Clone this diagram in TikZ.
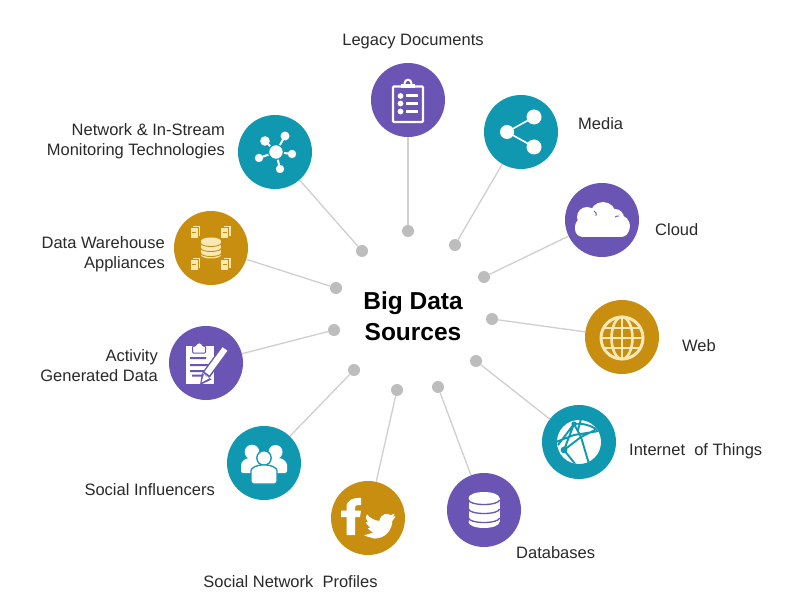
\documentclass[tikz,border=0pt]{standalone}
\usepackage{fontspec}
\setmainfont{Liberation Sans}
\definecolor{tealc}{HTML}{1098B0}
\definecolor{purp}{HTML}{6A54B4}
\definecolor{gold}{HTML}{C88E10}
\definecolor{cream}{HTML}{FAE8B4}
\definecolor{ink}{HTML}{2A2A2A}
\definecolor{wirec}{HTML}{CFCFCF}
\definecolor{dotc}{HTML}{BDBDBD}
\tikzset{
  disc/.style={circle,minimum size=74pt,inner sep=0pt,fill=#1},
  hub/.style={circle,minimum size=12pt,inner sep=0pt,fill=dotc},
  wire/.style={draw=wirec,line width=1.3pt},
  lab/.style={text=ink,inner sep=0pt,align=#1,font=\fontsize{16.5}{20}\selectfont},
  lab/.default=center,
  title/.style={text=black,inner sep=0pt,align=center,font=\fontsize{24.5}{30}\selectfont\bfseries}
}
\begin{document}
\begin{tikzpicture}[x=1pt,y=-1pt]
\useasboundingbox[fill=white] (0,0) rectangle (808,601);
% discs
\node[disc=purp]  (leg) at (408,100) {};
\node[disc=tealc] (med) at (521,132) {};
\node[disc=purp]  (clo) at (602,220) {};
\node[disc=gold]  (web) at (622,337) {};
\node[disc=tealc] (iot) at (579,442) {};
\node[disc=purp]  (dbs) at (484,510) {};
\node[disc=gold]  (soc) at (368,518) {};
\node[disc=tealc] (inf) at (264,463) {};
\node[disc=purp]  (act) at (206,363) {};
\node[disc=gold]  (dwh) at (211,248) {};
\node[disc=tealc] (net) at (275,152) {};
% hubs
\node[hub] (hleg) at (408,231) {};
\node[hub] (hmed) at (455,245) {};
\node[hub] (hclo) at (484,277) {};
\node[hub] (hweb) at (492,319) {};
\node[hub] (hiot) at (476,361) {};
\node[hub] (hdbs) at (438,387) {};
\node[hub] (hsoc) at (397,390) {};
\node[hub] (hinf) at (354,370) {};
\node[hub] (hact) at (334,330) {};
\node[hub] (hdwh) at (336,288) {};
\node[hub] (hnet) at (362,251) {};
% connectors
\draw[wire] (hleg) -- (leg);
\draw[wire] (hmed) -- (med);
\draw[wire] (hclo) -- (clo);
\draw[wire] (hweb) -- (web);
\draw[wire] (hiot) -- (iot);
\draw[wire] (hdbs) -- (dbs);
\draw[wire] (hsoc) -- (soc);
\draw[wire] (hinf) -- (inf);
\draw[wire] (hact) -- (act);
\draw[wire] (hdwh) -- (dwh);
\draw[wire] (hnet) -- (net);
% labels
\node[title] (big) at (413,316) {Big Data\\[1pt]Sources};
\node[lab] (lleg) at (413,41.5) {Legacy Documents};
\node[lab,anchor=west] (lmed) at (578,123.5) {Media};
\node[lab,anchor=west] (lclo) at (655,229.5) {Cloud};
\node[lab,anchor=west] (lweb) at (682,345.5) {Web};
\node[lab,anchor=west] (liot) at (629,451.5) {Internet\ \ of Things};
\node[lab,anchor=west] (ldbs) at (516,552.5) {Databases};
\node[lab] (lsoc) at (290.5,581.5) {Social Network\ \ Profiles};
\node[lab,anchor=east] (linf) at (215,489.5) {Social Influencers};
\node[lab=right,anchor=east] (lact) at (158,365.5) {Activity\\Generated Data};
\node[lab=right,anchor=east] (ldwh) at (165,254.5) {Data Warehouse\\Appliances};
\node[lab=right,anchor=east] (lnet) at (225,141.5) {Network \& In-Stream\\Monitoring Technologies};
% --- Legacy documents icon
\begin{scope}[shift={(leg.center)}]
  \draw[white,line width=2.2pt,fill=purp,rounded corners=1pt] (-15,-13.5) rectangle (15,22);
  \draw[white,line width=2pt] (-3.5,-13.5) -- (-3.3,-17) arc[start angle=180,end angle=0,radius=3.3pt] -- (3.5,-13.5);
  \fill[white] (-7,-15.5) rectangle (7,-11.5);
  \foreach \yy in {-4,3.5,11.5}{
    \fill[white] (-7.5,\yy) circle (2.9pt);
    \fill[white] (-2.5,\yy-1.5) rectangle (9.5,\yy+1.5);
  }
\end{scope}
% --- Network icon
\begin{scope}[shift={(net.center)}]
  \draw[white,line width=2pt] (1,0) -- (10,-16) (1,0) -- (-10,-11) (1,0) -- (17,2) (1,0) -- (-16,6) (1,0) -- (5,17);
  \draw[tealc,line width=1.2pt,fill=white] (1,0) circle (7.4pt);
  \fill[white] (10,-16) circle (4.5pt) (-10,-11) circle (4.8pt)
    (17,2) circle (4.2pt) (-16,6) circle (4.2pt) (5,17) circle (4.2pt);
\end{scope}
% --- Data warehouse icon
\begin{scope}[shift={(dwh.center)}]
  \fill[cream] (-10,-7) rectangle (10,7);
  \fill[cream] (0,-7) ellipse (10pt and 3.5pt) (0,7) ellipse (10pt and 3.5pt);
  \draw[gold,line width=.9pt] (-10,-4.5) arc[start angle=180,end angle=360,x radius=10pt,y radius=3pt];
  \draw[gold,line width=.9pt] (-10,0.5) arc[start angle=180,end angle=360,x radius=10pt,y radius=3pt];
  \draw[gold,line width=.9pt] (-10,5.5) arc[start angle=180,end angle=360,x radius=10pt,y radius=3pt];
  \foreach \xx/\yy in {-16/-16,14.5/-16,-16/16,14.5/16}{
    \draw[cream,line width=1.2pt] (\xx-2,\yy-5.5) -- (\xx+4.5,\yy-5.5) -- (\xx+4.5,\yy+4);
    \fill[cream] (\xx-4.5,\yy-3.5) rectangle (\xx+2.5,\yy+6);
    \draw[gold,line width=.8pt] (\xx-3,\yy) -- (\xx+1,\yy);
  }
\end{scope}
% --- Media icon
\begin{scope}[shift={(med.center)}]
  \draw[white,line width=1.6pt] (13,-15) -- (-14,0) -- (13,15);
  \fill[white] (-14,0) circle (7pt) (13,-15) circle (7.5pt) (13,15) circle (7.5pt);
\end{scope}
% --- Cloud icon
\begin{scope}[shift={(clo.center)}]
  \fill[white,rounded corners=8pt] (-27,0) rectangle (27,17);
  \fill[white] (-15,-3) circle (10pt) (1,-5) circle (13pt) (13,-2) circle (9pt) (17,6) circle (11pt) (-17,7) circle (10pt);
  \draw[purp,line width=.9pt] (-8,-9) .. controls (-5.5,-8) and (-5.5,-6) .. (-6,-4);
  \draw[purp,line width=.9pt] (13,-3) .. controls (14,-4) and (15.5,-4) .. (17,-4);
\end{scope}
% --- Web icon
\begin{scope}[shift={(web.center)}]
  \draw[cream,line width=3pt] (0,1) circle (21pt);
  \draw[cream,line width=2.6pt] (0,1) ellipse (10.5pt and 21pt);
  \draw[cream,line width=2.6pt] (0,-20) -- (0,22);
  \draw[cream,line width=2.6pt] (-21,1) -- (21,1) (-18,-9) -- (18,-9) (-18,11) -- (18,11);
\end{scope}
% --- Internet of Things icon
\begin{scope}[shift={(iot.center)}]
  \fill[white] (0,0) circle (22pt);
  \begin{scope}
    \clip (0,0) circle (22pt);
    \draw[tealc,line width=1.9pt] (-21,3) -- (-5,-18) -- (2,-5) -- (10,22)
      (-23,0) -- (-5,-7) -- (20,-11) (-15,8) -- (2,-5) -- (16,-12)
      (-15,8) -- (-3,23) (2,-23) -- (-1,-12) (-5,-18) .. controls (3,-19) and (12,-17) .. (20,-11)
      (-15,8) -- (-5,-18);
  \end{scope}
  \fill[tealc] (-15,8) circle (3.4pt) (-5,-18) circle (2.6pt);
\end{scope}
% --- Databases icon
\begin{scope}[shift={(dbs.center)}]
  \fill[white] (-15.5,-12) rectangle (15.5,12);
  \fill[white] (0,-12) ellipse (15.5pt and 6pt) (0,12) ellipse (15.5pt and 6pt);
  \foreach \yy in {-10,-1,8}{
    \draw[purp,line width=1.3pt] (-15.5,\yy) arc[start angle=180,end angle=360,x radius=15.5pt,y radius=4.5pt];
  }
\end{scope}
% --- Social icon
\begin{scope}[shift={(soc.center)}]
  \fill[white] (-21.5,17) -- (-21.5,-1) -- (-27,-1) -- (-27,-7.5) -- (-21.5,-7.5) -- (-21.5,-11)
    .. controls (-21.5,-18) and (-15,-20.5) .. (-7,-20) -- (-7,-13) -- (-10,-13)
    .. controls (-12.5,-13) and (-13,-12) .. (-13,-10) -- (-13,-7.5) -- (-7,-7.5) -- (-8,-1) -- (-13,-1) -- (-13,17) -- cycle;
  \begin{scope}[shift={(-3,-7)},x=1.25pt,y=-1.25pt]
    \filldraw[white,line width=.8pt,line join=round] (23.95,4.57) -- (21.13,5.34) -- (23.29,2.62) -- (20.17,3.8)
      .. controls (18.5,1.2) and (12.5,2.5) .. (11.79,8.28)
      .. controls (7.69,8.09) and (4.07,6.13) .. (1.64,3.16)
      -- (0.97,5.64) -- (3.16,9.74) -- (0.93,9.12) -- (4.88,14.01) -- (2.67,14.09) -- (7.27,17.51) -- (0,19.54)
      -- (7.55,21.75) .. controls (16.6,21.75) and (21.53,14.25) .. (21.53,7.77) -- cycle;
  \end{scope}
\end{scope}
% --- Influencers icon
\begin{scope}[shift={(inf.center)}]
  \fill[white] (-12,-11) circle (7.3pt) (11.5,-11) circle (7pt);
  \fill[white,rounded corners=2pt] (-23,10) -- (-23,4) .. controls (-23,-2) and (-18,-5) .. (-12,-5) .. controls (-6,-5) and (-1,-2) .. (-1,4) -- (-1,10) -- cycle;
  \fill[white,rounded corners=2pt] (23,10) -- (23,4) .. controls (23,-2) and (18,-5) .. (12,-5) .. controls (6,-5) and (1,-2) .. (1,4) -- (1,10) -- cycle;
  \draw[tealc,line width=1.3pt,fill=white] (0,-5) circle (7.2pt);
  \draw[tealc,line width=1.3pt,fill=white,rounded corners=2.5pt] (-13,21) -- (-13,10) .. controls (-13,5) and (-7,2) .. (0,2) .. controls (7,2) and (13,5) .. (13,10) -- (13,21) -- cycle;
\end{scope}
% --- Activity icon
\begin{scope}[shift={(act.center)}]
  \fill[white] (-20.5,-17) rectangle (8,21);
  \draw[purp,line width=1pt,fill=white,rounded corners=1pt] (-13.5,-10) -- (-13.5,-17) -- (-10,-17) arc[start angle=180,end angle=0,radius=3.2pt] -- (-0.5,-17) -- (-0.5,-10) -- cycle;
  \fill[purp] (-16,-6) rectangle (0,-4) (-16,1) rectangle (5,3) (-16,7) rectangle (2,9) (-14,11.5) rectangle (-3,13.5);
  \draw[purp,line width=9pt] (19.5,-14.5) -- (0,12);
  \draw[white,line width=6pt] (19,-14) -- (1,10.5);
  \fill[purp] (-4,10) -- (5.5,16.5) -- (-6,22) -- cycle;
  \fill[white] (-2.2,11.5) -- (3.3,15.3) -- (-4.5,19.5) -- cycle;
\end{scope}
\end{tikzpicture}
\end{document}
